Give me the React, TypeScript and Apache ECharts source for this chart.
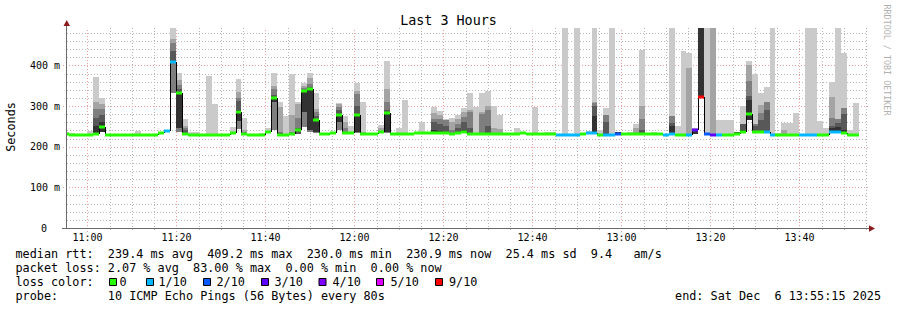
import React, { useEffect, useRef } from "react";
import * as echarts from "echarts";

const N = null;
const FONT = '"DejaVu Sans Mono", monospace';

// time axis in minutes of the day
const X_MIN = 655.43; // 10:55:26
const X_MAX = 835.43; // 13:55:26
const FIRST_SAMPLE = 654.64; // start of first 80 s sample
const STEP = 80 / 60;
const Y_MAX = 492;

const timeLabels = ["11:00", "11:20", "11:40", "12:00", "12:20", "12:40", "13:00", "13:20", "13:40"];
const yTickValues = [0, 100, 200, 300, 400];

// median rtt per 80 s sample (ms)
const median: (number | null)[] = [
  232, 230, 230, 230, 230, 232, 249, 230, 230, 230,
  230, 230, 230, 230, 230, 230, 233, 239, 409, 331,
  231, 230, 230, 230, 230, 230, 230, 230, 233, 285,
  232, 230, 230, 230, 237, 319, 230, 230, 231, 240,
  337, 342, 266, 231, 231, 234, 277, 233, 234, 278,
  232, 231, 231, 236, 283, 231, 231, 231, 231, 233,
  234, 234, 234, 234, 234, 232, 234, 237, 231, 231,
  232, 232, 232, 232, 231, 231, 231, 233, 231, 231,
  231, 231, 231, 230, 230, 230, 230, 231, 233, 234,
  230, 230, 230, 231, 231, 231, 231, 231, 231, 231,
  231, 230, 232, 230, 230, 230, 240, 323, 231, 230,
  230, 230, 230, 231, 237, 281, 235, 237, 235, 230,
  230, 230, 230, 230, 230, 230, 230, 230, 230, 236,
  236, 233, 230, 230, N, N,
];

// lost pings out of 10
const loss: (number | null)[] = [
  0, 0, 0, 0, 0, 0, 0, 0, 0, 0,
  0, 0, 0, 0, 0, 0, 0, 1, 1, 0,
  0, 0, 0, 0, 0, 0, 0, 0, 0, 0,
  0, 0, 0, 0, 0, 0, 0, 0, 0, 0,
  0, 0, 0, 0, 0, 0, 0, 0, 0, 0,
  0, 0, 0, 0, 0, 0, 0, 0, 0, 0,
  0, 0, 0, 0, 0, 0, 0, 0, 0, 0,
  0, 0, 0, 0, 0, 0, 0, 0, 0, 0,
  0, 0, 0, 1, 1, 1, 1, 0, 1, 1,
  0, 1, 1, 2, 0, 0, 0, 0, 0, 0,
  0, 1, 1, 0, 0, 1, 3, 9, 2, 3,
  1, 0, 0, 0, 0, 0, 0, 0, 1, 1,
  0, 0, 0, 0, 1, 1, 1, 0, 0, 1,
  1, 0, 0, 0, N, N,
];

// smoke: top of outer band (max ping)
const smokeMax: (number | null)[] = [
  235, 233, N, N, 239, 372, 319, N, N, N,
  N, N, 239, N, N, N, N, 241, 492, 382,
  269, 236, 235, N, 374, 304, N, N, 248, 366,
  271, N, N, 233, 247, 382, 310, 276, 378, 310,
  357, 382, 332, N, N, 236, 308, 276, 250, 357,
  310, N, N, 253, 411, 233, 245, 316, N, N,
  261, 236, 298, 287, 268, 271, 279, 296, 332, 298,
  332, 337, 299, 279, N, N, 245, N, 234, 298,
  N, 237, 237, N, 492, N, 492, N, 238, 492,
  240, 296, 492, 235, N, 235, 257, 439, N, 236,
  N, N, 492, 251, 436, 431, 245, 492, 492, 492,
  266, 266, 266, 235, 299, 411, 378, 331, 347, 492,
  234, 259, 259, 283, N, 492, 492, 264, 247, 360,
  492, 430, 240, 308, N, N,
];

// smoke: top of 2nd band
const smokeP2: (number | null)[] = [
  N, N, N, N, N, 310, 306, N, N, N,
  N, N, N, N, N, N, N, N, 466, 365,
  251, N, N, N, N, N, N, N, N, 334,
  240, N, N, N, N, 350, 298, N, 278, 305,
  350, 368, 292, N, N, N, 304, 260, N, 337,
  236, N, N, 245, 343, N, N, N, N, N,
  N, N, 282, 278, 266, 260, 269, 286, 291, N,
  286, 299, 245, 244, N, N, N, N, N, N,
  N, N, N, N, N, N, N, N, N, 309,
  N, 278, N, N, N, N, 245, 299, N, N,
  N, N, 275, N, N, 394, N, 492, N, 492,
  N, N, N, N, 257, 401, 255, 302, 310, N,
  N, 242, N, N, N, N, N, N, N, 323,
  269, 294, N, N, N, N,
];

// smoke: top of 3rd band
const smokeP3: (number | null)[] = [
  N, N, N, N, N, 292, 292, N, N, N,
  N, N, N, N, N, N, N, N, 454, 352,
  245, N, N, N, N, N, N, N, N, 320,
  236, N, N, N, N, 342, 236, N, 236, 270,
  345, 354, 285, N, N, N, 298, 245, N, 330,
  N, N, N, N, 310, N, N, N, N, N,
  N, N, 268, 268, 266, 240, 255, 273, 286, N,
  280, 290, N, N, N, N, N, N, N, N,
  N, N, N, N, N, N, N, N, N, 308,
  N, 278, N, N, N, N, N, 269, N, N,
  N, N, 275, N, N, N, N, 492, N, N,
  N, N, N, N, 257, 361, 255, 282, 310, N,
  N, N, N, N, N, N, N, N, N, 270,
  269, 294, N, N, N, N,
];

// smoke: top of 4th band
const smokeP4: (number | null)[] = [
  N, N, N, N, N, 271, 277, N, N, N,
  N, N, N, N, N, N, N, N, 435, 342,
  240, N, N, N, N, N, N, N, N, 312,
  234, N, N, N, N, 326, 233, N, N, 245,
  340, 348, 275, N, N, N, 290, 236, N, 300,
  N, N, N, N, 290, N, N, N, N, N,
  N, N, 261, 255, 250, N, 245, 260, 245, N,
  N, 250, N, N, N, N, N, N, N, N,
  N, N, N, N, N, N, N, N, N, 300,
  N, 261, N, N, N, N, N, 240, N, N,
  N, N, 259, N, N, N, 243, 492, N, N,
  N, N, N, N, 257, 325, 250, 266, 291, N,
  N, N, N, N, N, N, N, N, N, 250,
  259, 280, N, N, N, N,
];

// smoke: top of innermost (darkest) band
const smokeDark: (number | null)[] = [
  N, N, N, N, N, 250, 261, N, N, N,
  N, N, N, N, N, N, N, N, 412, 335,
  N, N, N, N, N, N, N, N, N, 290,
  N, N, N, N, N, 321, N, N, N, N,
  338, 344, 268, N, N, N, 279, N, N, 280,
  N, N, N, N, 285, N, N, N, N, N,
  N, N, 240, 238, N, N, N, 242, N, N,
  N, N, N, N, N, N, N, N, N, N,
  N, N, N, N, N, N, N, N, 236, 275,
  N, N, N, 235, N, N, N, N, N, N,
  N, N, 250, N, N, N, 240, 492, N, N,
  N, N, N, 235, 240, 315, N, N, 238, N,
  N, N, N, N, N, N, N, N, N, 245,
  249, 240, N, N, N, N,
];

// smoke: bottom of outer bands (min ping); null = at median
const smokeLo: (number | null)[] = [
  N, N, N, N, N, 231, 236, N, N, N,
  N, N, N, N, N, N, N, N, 331, 236,
  N, N, N, N, N, N, N, N, N, 243,
  N, N, N, N, N, 240, N, N, N, 232,
  249, 236, 234, N, N, N, 240, N, N, 234,
  N, N, N, N, 234, N, N, N, N, N,
  N, N, N, N, N, N, N, N, N, N,
  N, N, N, N, N, N, N, N, N, N,
  N, N, N, N, N, N, N, N, N, N,
  N, N, N, N, N, N, N, N, N, N,
  N, N, N, N, N, N, 232, 323, N, N,
  N, N, N, N, N, 265, N, N, N, N,
  N, N, N, N, N, N, N, N, N, N,
  N, N, N, N, N, N,
];

// smoke: bottom of inner bands; null = same as outer
const smokeLoInner: (number | null)[] = [
  N, N, N, N, N, N, N, N, N, N,
  N, N, N, N, N, N, N, N, 405, 245,
  N, N, N, N, N, N, N, N, N, 262,
  N, N, N, N, N, 310, N, N, N, N,
  286, 240, 236, N, N, N, 261, N, N, 236,
  N, N, N, N, 236, N, N, N, N, N,
  N, N, N, N, N, N, N, N, N, N,
  N, N, N, N, N, N, N, N, N, N,
  N, N, N, N, N, N, N, N, N, N,
  N, N, N, N, N, N, N, N, N, N,
  N, N, N, N, N, N, N, N, N, N,
  N, N, N, N, N, N, N, N, N, N,
  N, N, N, N, N, N, N, N, N, N,
  N, N, N, N, N, N,
];

const lossLegendKeys = [0, 1, 2, 3, 4, 5, 9];
const lossLegendLabels = ["0", "1/10", "2/10", "3/10", "4/10", "5/10", "9/10"];

const LOSS_COLORS: Record<number, string> = {
  0: "#26ff00", 1: "#00b8ff", 2: "#0059ff", 3: "#5e00ff", 4: "#7e00ff", 5: "#dd00ff", 9: "#ff0000",
};
const BAND_COLORS = ["#cacaca", "#a4a4a4", "#7e7e7e", "#585858", "#323232"];
const GRID_GREY = "#b8b8b8";
const GRID_RED = "#eba0a0";

const sampleStart = (i: number) => FIRST_SAMPLE + i * STEP;
const toMinutes = (s: string) => {
  const [h, m] = s.split(":").map(Number);
  return h * 60 + m;
};

function buildOption() {
  const idx = median.map((m, i) => (m == null ? -1 : i)).filter((i) => i >= 0);
  const sampleData = idx.map((i) => [sampleStart(i), median[i], sampleStart(i + 1), i]);
  const stepData = idx
    .filter((i) => i > 0 && median[i - 1] != null)
    .map((i) => [sampleStart(i), median[i], median[i - 1], i]);

  const majorX = timeLabels.map(toMinutes);
  const vLines: number[][] = [];
  for (let v = Math.ceil(X_MIN / 5) * 5; v < X_MAX; v += 5) {
    const mi = majorX.indexOf(v);
    vLines.push([v, 0, mi >= 0 ? 1 : 0, mi]);
  }
  const hLines: number[][] = [];
  for (let v = 20; v < Y_MAX; v += 20) {
    hLines.push([X_MIN, v, yTickValues.indexOf(v) >= 0 ? 1 : 0]);
  }

  const xPix = (api: any, v: number) => Math.round(api.coord([v, 0])[0]);
  const yPix = (api: any, v: number) => api.coord([X_MIN, v])[1];

  const text = (t: string, x: number, y: number, o: any = {}) => ({
    type: "text",
    x,
    y,
    z: 20,
    silent: true,
    rotation: o.rotation || 0,
    style: {
      text: t,
      fill: o.fill || "#000",
      font: `${o.size || 11.8}px ${FONT}`,
      textAlign: o.align || "left",
      align: o.align || "left",
      textVerticalAlign: "middle",
      verticalAlign: "middle",
    },
  });

  const squareLeft = [109, 146, 203, 261, 318.5, 376, 435];
  const labelLeft = [119.5, 158.5, 216.5, 274.5, 332.5, 390.5, 449];

  const graphic: any[] = [
    text("Last 3 Hours", 448.5, 20, { size: 13.4, align: "center" }),
    text("Seconds", 11, 127, { rotation: Math.PI / 2, align: "center" }),
    text("RRDTOOL / TOBI OETIKER", 887, 60, { rotation: -Math.PI / 2, align: "center", size: 8.4, fill: "#b0b0b0" }),
    text("median rtt:  239.4 ms avg  409.2 ms max  230.0 ms min  230.9 ms now  25.4 ms sd  9.4   am/s", 15.5, 254),
    text("packet loss: 2.07 % avg  83.00 % max  0.00 % min  0.00 % now", 15.5, 268),
    text("loss color:", 15.5, 282),
    text("probe:       10 ICMP Echo Pings (56 Bytes) every 80s", 15.5, 296),
    text("end: Sat Dec  6 13:55:15 2025", 881, 296, { align: "right" }),
    { type: "line", z: 20, silent: true, shape: { x1: 66.5, y1: 228, x2: 66.5, y2: 24 }, style: { stroke: "#6a6a6a", lineWidth: 1 } },
    { type: "line", z: 20, silent: true, shape: { x1: 62, y1: 228.5, x2: 870, y2: 228.5 }, style: { stroke: "#6a6a6a", lineWidth: 1 } },
    { type: "polygon", z: 21, silent: true, shape: { points: [[63.5, 26], [70, 26], [66.75, 20]] }, style: { fill: "#8b1a1a" } },
    { type: "polygon", z: 21, silent: true, shape: { points: [[869, 225.3], [869, 231.8], [875, 228.5]] }, style: { fill: "#8b1a1a" } },
  ];
  lossLegendKeys.forEach((k, j) => {
    graphic.push({
      type: "rect",
      z: 20,
      silent: true,
      shape: { x: squareLeft[j] + 0.5, y: 278.5, width: 7, height: 7 },
      style: { fill: LOSS_COLORS[k], stroke: "#000", lineWidth: 1 },
    });
    graphic.push(text(lossLegendLabels[j], labelLeft[j], 282));
  });

  return {
    animation: false,
    backgroundColor: "#ffffff",
    textStyle: { fontFamily: FONT },
    grid: { left: 67, right: 29, top: 28, bottom: 82, containLabel: false },
    xAxis: {
      type: "value",
      min: X_MIN,
      max: X_MAX,
      axisLine: { show: false },
      axisTick: { show: false },
      axisLabel: { show: false },
      splitLine: { show: false },
    },
    yAxis: {
      type: "value",
      min: 0,
      max: Y_MAX,
      interval: 100,
      axisLine: { show: false },
      axisTick: { show: false },
      splitLine: { show: false },
      axisLabel: {
        fontFamily: FONT,
        fontSize: 10,
        color: "#000",
        margin: 7,
        formatter: (v: number) => (v > 400 ? "" : v === 0 ? "{z|0}" : `${v} m`),
        rich: { z: { fontFamily: FONT, fontSize: 10, color: "#000", padding: [0, 13, 0, 0] } },
      },
    },
    graphic,
    series: [
      {
        type: "custom",
        name: "vgrid",
        z: 1,
        silent: true,
        data: vLines,
        renderItem: (params: any, api: any) => {
          const cs = params.coordSys;
          const v = api.value(0);
          const major = api.value(2) === 1;
          const x = xPix(api, v) + 0.5;
          const children: any[] = [
            {
              type: "line",
              shape: { x1: x, y1: cs.y + cs.height + (major ? 4 : 2), x2: x, y2: cs.y },
              style: { stroke: major ? GRID_RED : GRID_GREY, lineWidth: 1, lineDash: [1, 2] },
            },
          ];
          if (major) {
            children.push({
              type: "text",
              x: x,
              y: 237,
              style: {
                text: timeLabels[api.value(3)],
                fill: "#000",
                font: `10px ${FONT}`,
                textAlign: "center",
                align: "center",
                textVerticalAlign: "middle",
                verticalAlign: "middle",
              },
            });
          }
          return { type: "group", children };
        },
      },
      {
        type: "custom",
        name: "hgrid",
        z: 1,
        silent: true,
        data: hLines,
        renderItem: (params: any, api: any) => {
          const cs = params.coordSys;
          const major = api.value(2) === 1;
          const y = Math.round(yPix(api, api.value(1))) + 0.5;
          return {
            type: "line",
            shape: { x1: cs.x - (major ? 4 : 0), y1: y, x2: cs.x + cs.width, y2: y },
            style: { stroke: major ? GRID_RED : GRID_GREY, lineWidth: 1, lineDash: [1, 2] },
          };
        },
      },
      {
        type: "custom",
        name: "smoke",
        z: 2,
        silent: true,
        data: sampleData,
        renderItem: (params: any, api: any) => {
          const cs = params.coordSys;
          const i = api.value(3);
          const xa = Math.max(cs.x, xPix(api, api.value(0)));
          const xb = Math.min(cs.x + cs.width, xPix(api, api.value(2)));
          if (xb <= xa) return null;
          const m = median[i] as number;
          const lo = smokeLo[i] ?? m;
          const loIn = smokeLoInner[i] ?? lo;
          const bands: [number | null, number][] = [
            [smokeMax[i], lo],
            [smokeP2[i], lo],
            [smokeP3[i], lo],
            [smokeP4[i], loIn],
            [smokeDark[i], loIn],
          ];
          const children: any[] = [];
          bands.forEach(([top, bot], b) => {
            if (top == null || top <= bot) return;
            const yt = Math.round(yPix(api, top));
            const yb = Math.round(yPix(api, bot));
            if (yb <= yt) return;
            children.push({
              type: "rect",
              shape: { x: xa, y: yt, width: xb - xa, height: yb - yt },
              style: { fill: BAND_COLORS[b] },
            });
          });
          return { type: "group", children };
        },
      },
      {
        type: "custom",
        name: "median step",
        z: 3,
        silent: true,
        data: stepData,
        renderItem: (params: any, api: any) => {
          const cs = params.coordSys;
          const xr = xPix(api, api.value(0));
          if (xr <= cs.x) return null;
          const x = xr + 0.5;
          const y1 = Math.round(yPix(api, api.value(1)));
          const y2 = Math.round(yPix(api, api.value(2)));
          if (Math.abs(y1 - y2) < 1) return null;
          return {
            type: "line",
            shape: { x1: x, y1, x2: x, y2 },
            style: { stroke: "#000", lineWidth: 1 },
          };
        },
      },
      {
        type: "custom",
        name: "median",
        z: 4,
        silent: true,
        data: sampleData,
        renderItem: (params: any, api: any) => {
          const cs = params.coordSys;
          const i = api.value(3);
          const xa = Math.max(cs.x, xPix(api, api.value(0)));
          const xb = Math.min(cs.x + cs.width, xPix(api, api.value(2)));
          if (xb <= xa) return null;
          const y = Math.round(yPix(api, api.value(1)));
          return {
            type: "rect",
            shape: { x: xa, y: y - 1.5, width: xb - xa, height: 3 },
            style: { fill: LOSS_COLORS[loss[i] as number] || "#26ff00" },
          };
        },
      },
    ],
  };
}

export default function App() {
  const ref = useRef<HTMLDivElement>(null);
  useEffect(() => {
    document.body.style.margin = "0";
    const chart = echarts.init(ref.current!, null, { renderer: "svg" });
    chart.setOption(buildOption() as any);
    return () => chart.dispose();
  }, []);
  return <div ref={ref} style={{ width: 897, height: 310, background: "#fff" }} />;
}
